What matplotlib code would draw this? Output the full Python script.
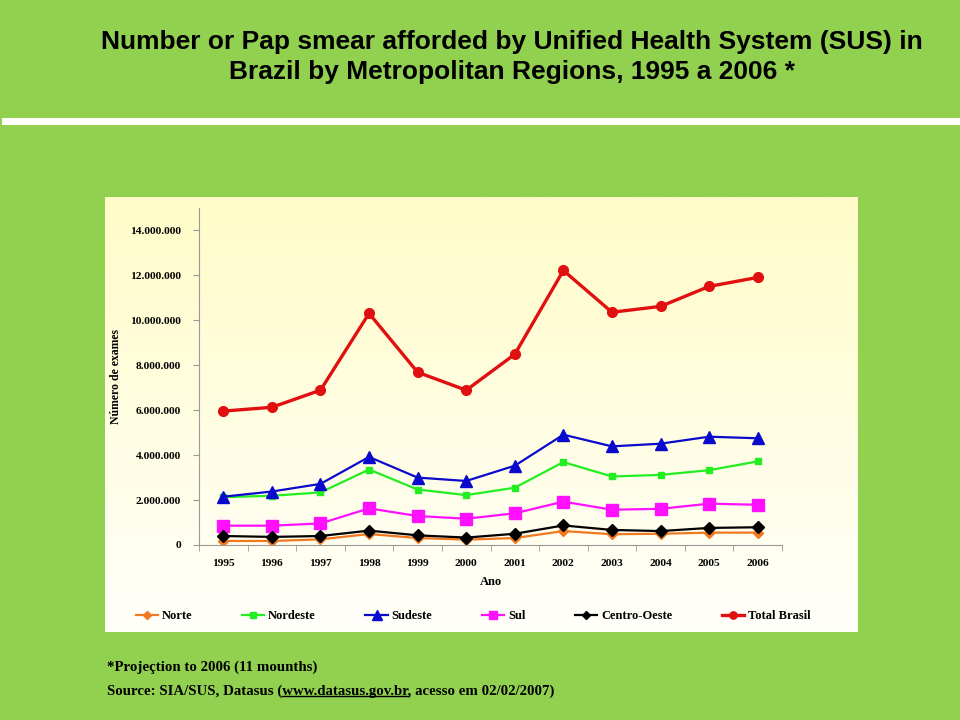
import numpy as np
import matplotlib
matplotlib.use("Agg")
import matplotlib.pyplot as plt
from matplotlib.patches import Rectangle
from matplotlib.ticker import FuncFormatter, FixedLocator

# data
years = ["1995", "1996", "1997", "1998", "1999", "2000",
         "2001", "2002", "2003", "2004", "2005", "2006"]
norte = [180e3, 180e3, 250e3, 490e3, 310e3, 240e3, 310e3, 620e3, 480e3, 500e3, 550e3, 550e3]
nordeste = [2.13e6, 2.19e6, 2.34e6, 3.36e6, 2.47e6, 2.22e6, 2.55e6, 3.69e6, 3.05e6, 3.12e6, 3.33e6, 3.72e6]
sudeste = [2.15e6, 2.38e6, 2.72e6, 3.92e6, 3.0e6, 2.85e6, 3.53e6, 4.91e6, 4.39e6, 4.51e6, 4.82e6, 4.75e6]
sul = [0.86e6, 0.86e6, 0.96e6, 1.63e6, 1.29e6, 1.17e6, 1.41e6, 1.93e6, 1.57e6, 1.61e6, 1.84e6, 1.79e6]
centro_oeste = [0.40e6, 0.36e6, 0.40e6, 0.64e6, 0.43e6, 0.33e6, 0.50e6, 0.87e6, 0.67e6, 0.62e6, 0.76e6, 0.79e6]
total = [5.96e6, 6.13e6, 6.89e6, 10.31e6, 7.69e6, 6.89e6, 8.49e6, 12.22e6, 10.36e6, 10.62e6, 11.51e6, 11.91e6]

series_names = ["Norte", "Nordeste", "Sudeste", "Sul", "Centro-Oeste", "Total Brasil"]
y_ticks = [0, 2e6, 4e6, 6e6, 8e6, 10e6, 12e6, 14e6]

GREEN = "#92D050"
W, H = 960, 720

fig = plt.figure(figsize=(9.6, 7.2), dpi=100, facecolor=GREEN)

def fx(px):
    return px / W

def fy(py):
    return 1 - py / H

# white stripe under the title
fig.patches.append(Rectangle((fx(2), fy(125)), fx(958), 7 / H, transform=fig.transFigure,
                             facecolor="white", edgecolor="none", zorder=0))

title_font = ["Liberation Sans Narrow", "DejaVu Sans Condensed", "Liberation Sans", "DejaVu Sans"]
fig.text(fx(512), fy(42), "Number or Pap smear afforded by Unified Health System (SUS) in",
         ha="center", va="center", fontsize=19, fontweight="bold", family=title_font)
fig.text(fx(512), fy(72), "Brazil by Metropolitan Regions, 1995 a 2006 *",
         ha="center", va="center", fontsize=19, fontweight="bold", family=title_font)

# chart panel with yellow gradient
ax_bg = fig.add_axes([fx(105), fy(632), fx(858 - 105), (632 - 197) / H], zorder=0)
grad = np.linspace(0, 1, 256).reshape(-1, 1)
top = np.array([255, 252, 200]) / 255
bot = np.array([255, 255, 250]) / 255
img = top[None, None, :] * (1 - grad[:, :, None]) + bot[None, None, :] * grad[:, :, None]
ax_bg.imshow(img, aspect="auto", extent=[0, 1, 0, 1])
ax_bg.set_axis_off()

serif = ["Liberation Serif", "DejaVu Serif"]

ax = fig.add_axes([fx(199), fy(545), fx(782 - 199), (545 - 208) / H], zorder=1)
ax.patch.set_alpha(0)
x = np.arange(len(years))

styles = [
    (norte, "#F07820", "D", 5, 1.6),
    (nordeste, "#22EE22", "s", 5, 1.6),
    (sudeste, "#0A0ACC", "^", 9, 1.6),
    (sul, "#FF10FF", "s", 8, 1.6),
    (centro_oeste, "black", "D", 6, 1.6),
    (total, "#E01010", "o", 7, 2.4),
]
for (vals, col, mk, ms, lw), name in zip(styles, series_names):
    ax.plot(x, vals, color=col, marker=mk, markersize=ms, linewidth=lw, label=name)

ax.set_xlim(-0.5, len(years) - 0.5)
ax.set_ylim(0, 15e6)
ax.set_yticks(y_ticks)
ax.yaxis.set_major_formatter(FuncFormatter(lambda v, p: f"{int(v):,}".replace(",", ".")))
ax.set_xticks(x)
ax.set_xticklabels(years)
ax.xaxis.set_minor_locator(FixedLocator(np.arange(-0.5, len(years), 1)))
ax.tick_params(axis="x", which="major", length=0, pad=10)
ax.tick_params(axis="x", which="minor", length=4, color="#999999", direction="out")
ax.tick_params(axis="y", length=4, color="#999999", pad=9)
for lab in ax.get_xticklabels() + ax.get_yticklabels():
    lab.set_family(serif)
    lab.set_fontweight("bold")
    lab.set_fontsize(8.2)

for s in ["top", "right"]:
    ax.spines[s].set_visible(False)
for s in ["left", "bottom"]:
    ax.spines[s].set_color("#999999")

ax.set_ylabel("Número de exames", family=serif, fontweight="bold", fontsize=8.5, labelpad=6)
ax.set_xlabel("Ano", family=serif, fontweight="bold", fontsize=9, labelpad=6)

leg = fig.legend(loc="center", bbox_to_anchor=(fx(473), fy(616)), ncol=6, frameon=False,
                 prop={"family": serif, "weight": "bold", "size": 9},
                 handlelength=1.8, handletextpad=0.3, columnspacing=3.95, markerscale=0.75)

# footnotes
foot = dict(family=serif, fontweight="bold", fontsize=10.7, va="center", ha="left")
fig.text(fx(107), fy(667), "*Projeçtion to 2006 (11 mounths)", **foot)
src_pre = "Source: SIA/SUS, Datasus ("
url = "www.datasus.gov.br"
t_src = fig.text(fx(107), fy(691), src_pre + url + ", acesso em 02/02/2007)", **foot)

# underline the url
fig.canvas.draw()
r = fig.canvas.get_renderer()
t_pre = fig.text(fx(107), fy(691), src_pre, alpha=0, **foot)
t_url = fig.text(fx(107), fy(691), src_pre + url, alpha=0, **foot)
x0 = t_pre.get_window_extent(r).x1
x1 = t_url.get_window_extent(r).x1
yline = t_src.get_window_extent(r).y0 + 2
fig.add_artist(plt.Line2D([x0 / W, x1 / W], [yline / H, yline / H], color="black",
                          linewidth=1.0, transform=fig.transFigure))

fig.savefig("out.png", dpi=100, facecolor=GREEN)
